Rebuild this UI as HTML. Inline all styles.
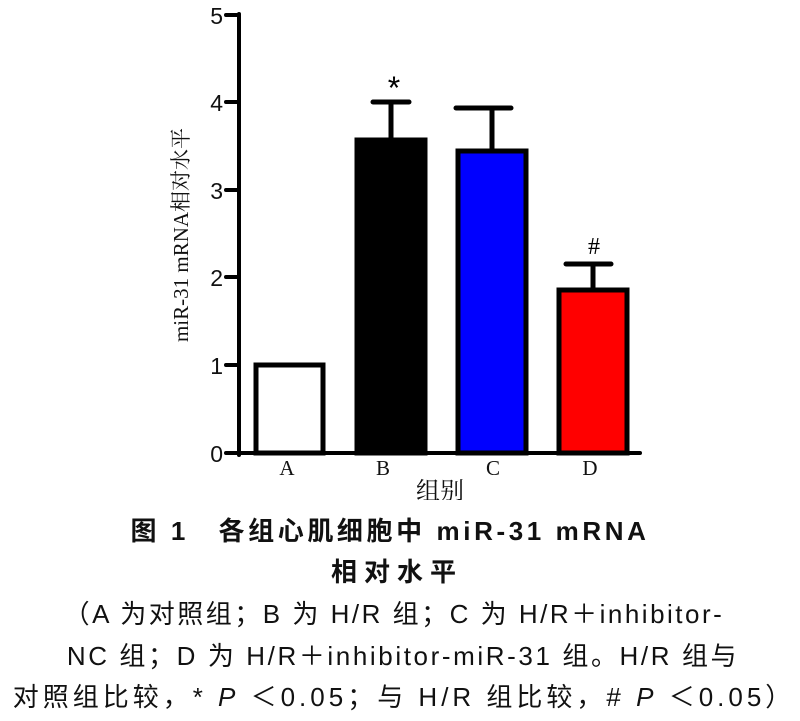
<!DOCTYPE html>
<html><head><meta charset="utf-8"><style>
body{margin:0;background:#fff;width:800px;height:721px;overflow:hidden;position:relative;font-family:"Liberation Sans","Noto Sans CJK SC",sans-serif}
.c{position:absolute;left:0;width:800px;text-align:center;color:#111;font-size:26px;white-space:nowrap}
</style></head><body>
<svg width="800" height="500" style="position:absolute;left:0;top:0">
<g stroke="#000" stroke-width="4" fill="none" stroke-linecap="round">
<line x1="239" y1="14" x2="239" y2="455"/>
<line x1="226" y1="453" x2="640" y2="453"/>
<line x1="226" y1="15" x2="239" y2="15"/>
<line x1="226" y1="102" x2="239" y2="102"/>
<line x1="226" y1="190" x2="239" y2="190"/>
<line x1="226" y1="277" x2="239" y2="277"/>
<line x1="226" y1="365" x2="239" y2="365"/>
</g>
<g stroke="#000" stroke-width="5">
<rect x="256" y="365" width="67" height="88" fill="#fff"/>
<rect x="357" y="140" width="68" height="313" fill="#000"/>
<rect x="458" y="151" width="68" height="302" fill="#0000ff"/>
<rect x="559" y="290" width="68" height="163" fill="#ff0000"/>
<g stroke-width="5" stroke-linecap="round">
<line x1="391" y1="140" x2="391" y2="102"/><line x1="373" y1="102" x2="409" y2="102"/>
<line x1="492" y1="151" x2="492" y2="108"/><line x1="456" y1="108" x2="511" y2="108"/>
<line x1="593" y1="290" x2="593" y2="264"/><line x1="566" y1="264" x2="611" y2="264"/>
</g></g>
<g font-family="Liberation Sans,sans-serif" font-size="23" fill="#111" text-anchor="end">
<text x="223" y="24">5</text><text x="223" y="111">4</text><text x="223" y="199">3</text>
<text x="223" y="286">2</text><text x="223" y="374">1</text><text x="223" y="462">0</text>
</g>
<g font-family="Liberation Serif,serif" font-size="21" fill="#111" text-anchor="middle">
<text x="287" y="475">A</text><text x="383" y="475">B</text><text x="493" y="475">C</text><text x="590" y="475">D</text>
</g>
<text x="394" y="99" font-size="32" text-anchor="middle" font-family="Liberation Sans,sans-serif">*</text>
<text x="594" y="254" font-size="24" text-anchor="middle" font-family="Liberation Serif,serif">#</text>
<text transform="translate(188,235) rotate(-90)" font-family="Liberation Serif,'Noto Serif CJK SC',serif" font-size="21" fill="#111" text-anchor="middle">miR-31 mRNA相对水平</text>
<text x="440" y="499" font-family="'Noto Serif CJK SC',serif" font-size="24" fill="#111" text-anchor="middle">组别</text>
</svg>
<div class="c" style="top:511px;font-weight:bold;letter-spacing:3.6px;left:-10px">图 1　各组心肌细胞中 miR-31 mRNA</div>
<div class="c" style="top:552px;font-weight:bold;letter-spacing:7px;padding-left:7px;left:-10px">相对水平</div>
<div class="c" style="top:594px;letter-spacing:2.5px;left:-6px">（A 为对照组；B 为 H/R 组；C 为 H/R＋inhibitor-</div>
<div class="c" style="top:636px;letter-spacing:2.6px;padding-left:3px">NC 组；D 为 H/R＋inhibitor-miR-31 组。H/R 组与</div>
<div class="c" style="top:677px;letter-spacing:4px;padding-left:4px">对照组比较，* <i>P</i> ＜0.05；与 H/R 组比较，# <i>P</i> ＜0.05）</div>
</body></html>
